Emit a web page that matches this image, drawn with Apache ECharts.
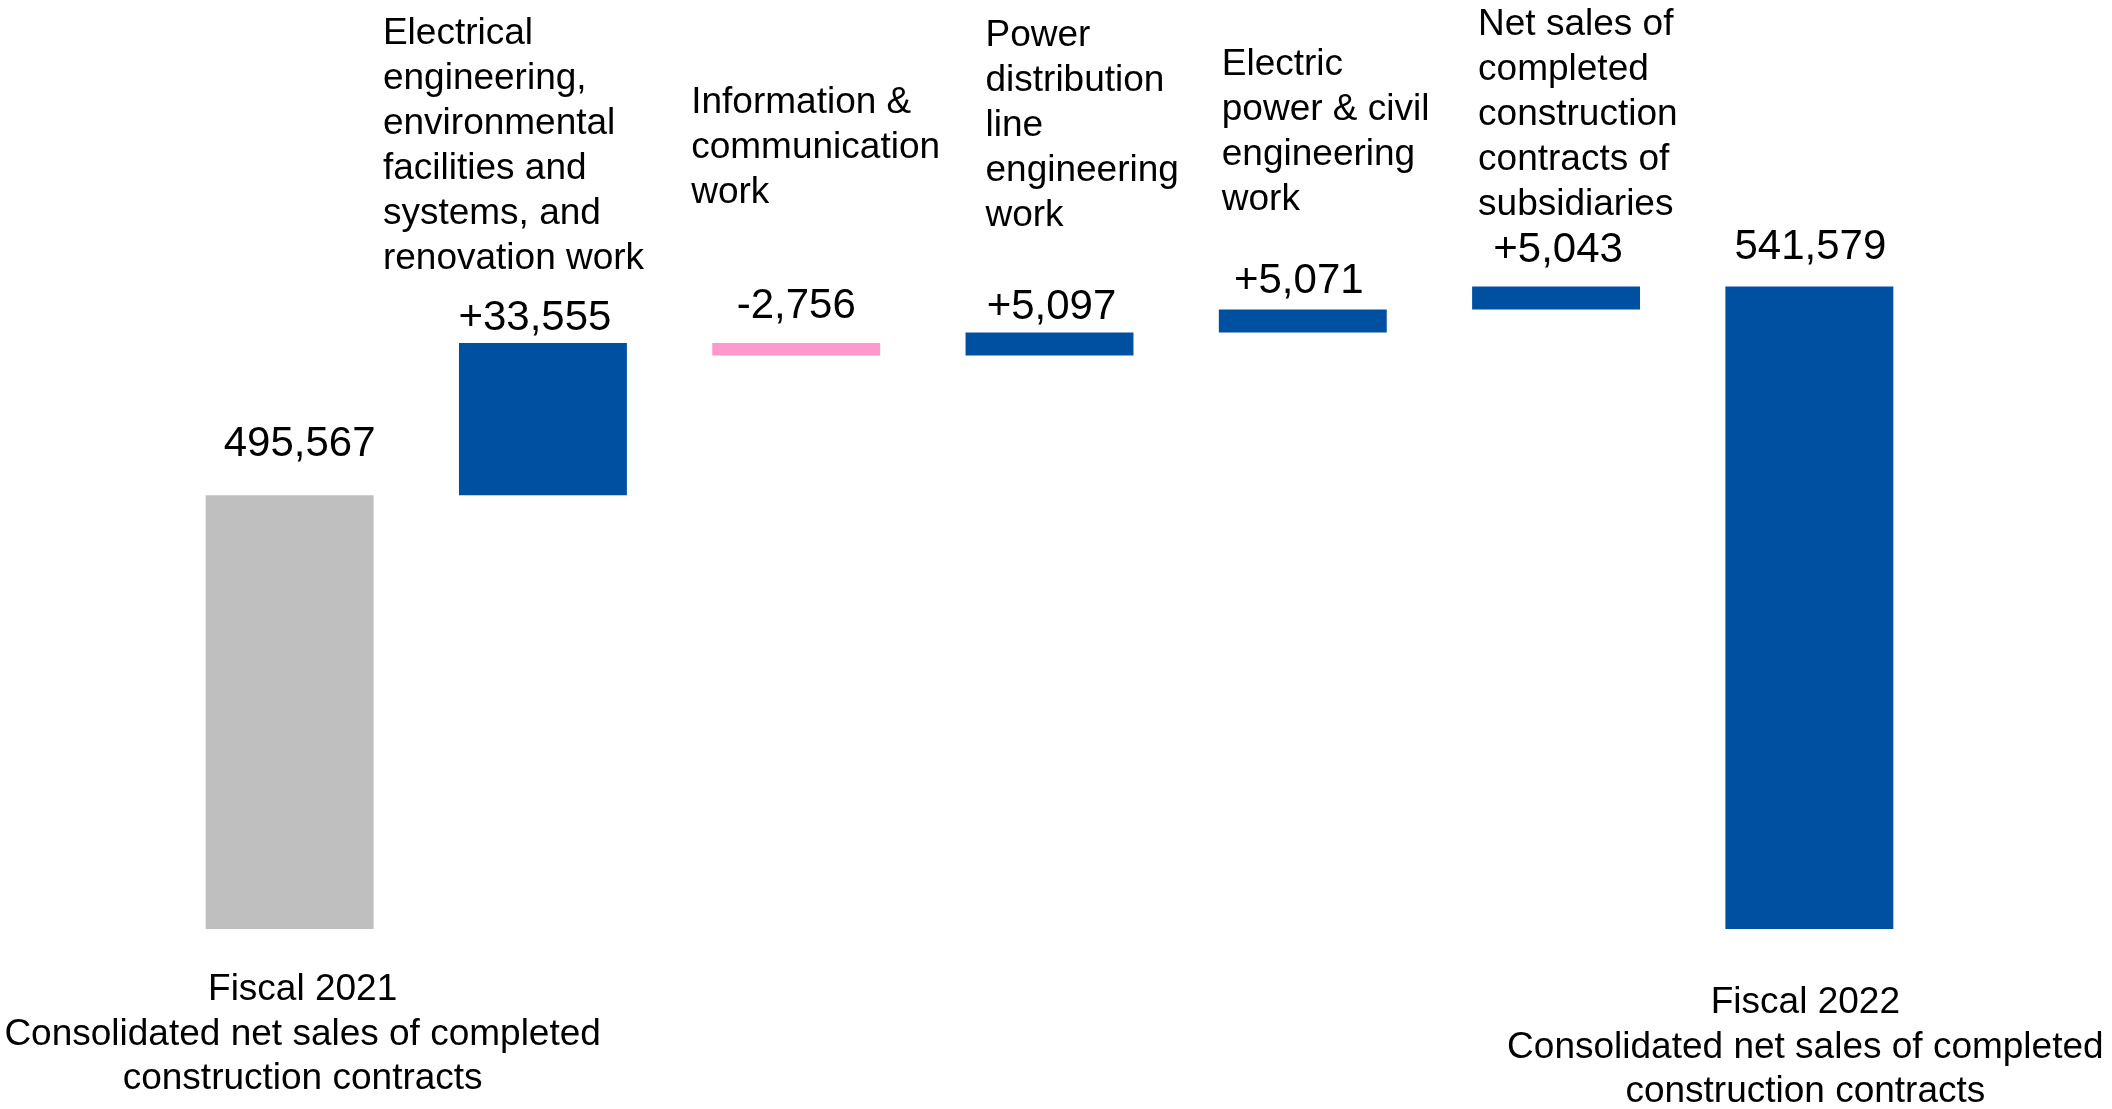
<!DOCTYPE html>
<html>
<head>
<meta charset="utf-8">
<script src="https://cdn.jsdelivr.net/npm/echarts@6/dist/echarts.min.js"></script>
<style>html,body{margin:0;padding:0;background:#fff}#c{width:2112px;height:1109px}</style>
</head>
<body>
<div id="c"></div>
<script>
// ---- data ----
const bottomLabels = [
  'Fiscal 2021\nConsolidated net sales of completed\nconstruction contracts',
  '', '', '', '', '',
  'Fiscal 2022\nConsolidated net sales of completed\nconstruction contracts'
];
const stepNames = [
  '',
  'Electrical\nengineering,\nenvironmental\nfacilities and\nsystems, and\nrenovation work',
  'Information &\ncommunication\nwork',
  'Power\ndistribution\nline\nengineering\nwork',
  'Electric\npower & civil\nengineering\nwork',
  'Net sales of\ncompleted\nconstruction\ncontracts of\nsubsidiaries',
  ''
];
const values = [495567, 33555, -2756, 5097, 5071, 5043, 541579];
const kinds = ['total', 'delta', 'delta', 'delta', 'delta', 'delta', 'total'];
const axisMin = 400000, axisMax = 560000;

// ---- layout/style (not data) ----
const valueLabelDist = [30, 4, 16, 4, 7, 15, 18];
const valueLabelDx = [10, -8, 0, 2, -4, 2, 1];
const nameOffsets = [null, [-160, -62], [-105, -128], [-64, -94], [-81, -87], [-78, -59], null];
const COLORS = {total0: '#BFBFBF', up: '#0050A2', down: '#FF99CC', total1: '#0050A2'};

// ---- build waterfall ----
const base = [], vis = [], tops = [];
let run = 0;
values.forEach((v, i) => {
  if (kinds[i] === 'total') {
    base.push(axisMin); vis.push(v - axisMin); tops.push(v); run = v;
  } else {
    const s = run, e = run + v;
    base.push(Math.min(s, e)); vis.push(Math.abs(v)); tops.push(Math.max(s, e)); run = e;
  }
});
function fmt(v, k) {
  const s = Math.abs(v).toLocaleString('en-US');
  if (k === 'total') return s;
  return (v >= 0 ? '+' : '-') + s;
}
const FONT = '"Liberation Sans", Arial, sans-serif';

const chart = echarts.init(document.getElementById('c'));
chart.setOption({
  animation: false,
  textStyle: {color: '#000', fontFamily: FONT},
  grid: {left: 163, right: 176, top: 203, bottom: 180, containLabel: false, outerBoundsMode: 'none'},
  xAxis: {
    type: 'category',
    data: bottomLabels.map((t, i) => ({
      value: t,
      textStyle: i === 0 ? {padding: [0, 0, 0, 26]} : (i === 6 ? {padding: [13, 8, 0, 0]} : {})
    })),
    axisLine: {show: false}, axisTick: {show: false},
    axisLabel: {interval: 0, margin: 39, fontSize: 37, lineHeight: 44.5, color: '#000', fontFamily: FONT}
  },
  yAxis: {type: 'value', min: axisMin, max: axisMax, show: false, splitLine: {show: false}},
  series: [
    {type: 'bar', stack: 'w', data: base, itemStyle: {color: 'transparent'}, barWidth: '66.3%', silent: true},
    {
      type: 'bar', stack: 'w', barWidth: '66.3%',
      data: vis.map((v, i) => ({
        value: v,
        itemStyle: {color: i === 0 ? COLORS.total0 : (i === 6 ? COLORS.total1 : (values[i] < 0 ? COLORS.down : COLORS.up))},
        label: {show: true, position: 'top', distance: valueLabelDist[i], offset: [valueLabelDx[i], 0],
          formatter: fmt(values[i], kinds[i]), fontSize: 42, color: '#000', fontFamily: FONT}
      }))
    },
    {
      type: 'scatter', symbolSize: 0, silent: true,
      itemStyle: {color: '#000', opacity: 1},
      label: {show: true, position: 'top', distance: 0, align: 'left', verticalAlign: 'bottom',
        fontSize: 37, lineHeight: 45, color: '#000', opacity: 1, fontFamily: FONT,
        formatter: p => stepNames[p.value[0]]},
      labelLine: {show: false},
      data: tops.map((t, i) => stepNames[i] ? ({
        value: [i, t],
        label: {offset: nameOffsets[i]}
      }) : null).filter(d => d)
    }
  ]
});
</script>
</body>
</html>
